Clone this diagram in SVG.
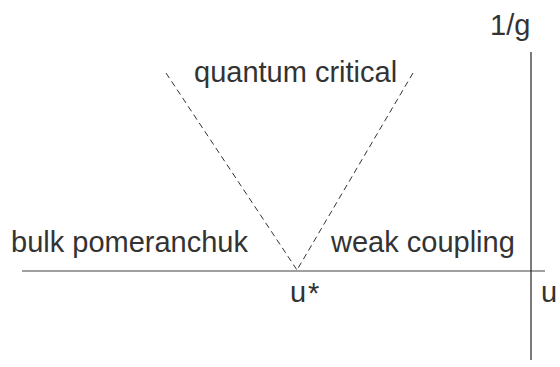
<svg xmlns="http://www.w3.org/2000/svg" width="560" height="367" viewBox="0 0 560 367">
<style>
text{font-family:"Liberation Sans",Arial,sans-serif;font-size:29px;fill:#333}
.axis-h{stroke:#808080;stroke-width:1.6}
.axis-v{stroke:#222;stroke-width:1.2}
.dash{stroke:#333;stroke-width:1;stroke-dasharray:6,4;fill:none}
</style>
<rect width="560" height="367" fill="#fff"/>
<g id="connectors">
<line class="axis-h" x1="22" y1="271" x2="545" y2="271"/>
<line class="axis-v" x1="531" y1="52" x2="531" y2="360"/>
<line class="dash" x1="166" y1="73" x2="297" y2="270"/>
<line class="dash" x1="413" y1="73" x2="297" y2="270"/>
</g>
<g id="label-1g"><text x="490" y="35">1/g</text></g>
<g id="label-qc"><text x="194" y="82">quantum critical</text></g>
<g id="label-bulk"><text x="11" y="252">bulk pomeranchuk</text></g>
<g id="label-weak"><text x="331" y="252">weak coupling</text></g>
<g id="label-ustar"><text x="290" y="302">u</text><text x="308" y="303">*</text></g>
<g id="label-u"><text x="541" y="302">u</text></g>
</svg>
